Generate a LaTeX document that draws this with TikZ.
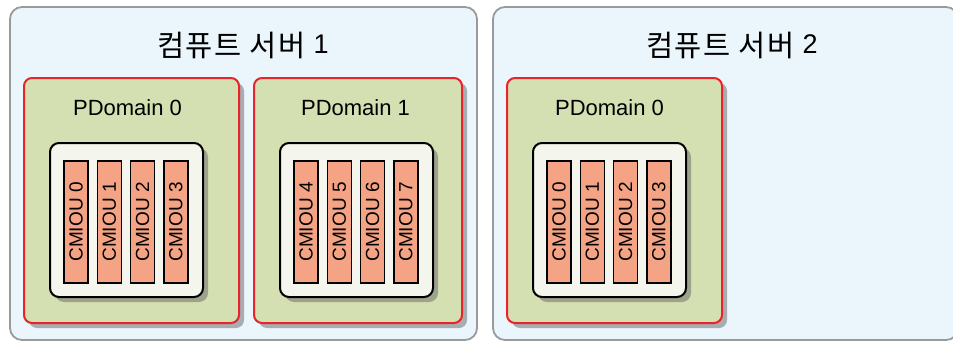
\documentclass[tikz,border=0pt]{standalone}
\usepackage{fontspec}
\setmainfont{Liberation Sans}
\newfontfamily\krfont[LetterSpace=5]{Noto Sans CJK KR}
\usetikzlibrary{shadows}
\definecolor{serverfill}{HTML}{EAF5FC}
\definecolor{serverline}{HTML}{9A9A9A}
\definecolor{pdfill}{HTML}{D5E0B2}
\definecolor{pdline}{HTML}{E8232B}
\definecolor{boardfill}{HTML}{F4F6ED}
\definecolor{cmioufill}{HTML}{F4A385}
\newcommand{\servernum}[1]{\raisebox{2.5pt}{\rmfamily\fontsize{27}{30}\selectfont #1}}
\begin{document}
\begin{tikzpicture}
        [
            x=1pt, y=-1pt,
            server/.style={draw=serverline, fill=serverfill, line width=1.8pt, rounded corners=12pt,
                minimum width=467pt, minimum height=333pt},
            pdomain/.style={draw=pdline, fill=pdfill, line width=2pt, rounded corners=8pt,
                minimum height=245pt, drop shadow={shadow xshift=5pt, shadow yshift=-5pt, fill=black!60}},
            board/.style={draw=black, fill=boardfill, line width=2pt, rounded corners=9pt,
                minimum width=153pt, minimum height=154pt, drop shadow={shadow xshift=5pt, shadow yshift=-5pt, fill=black!60}},
            cmiou/.style={draw=black, fill=cmioufill, line width=1.5pt, rotate=90, inner sep=0pt,
                minimum width=122pt, minimum height=24pt, font=\fontsize{19}{20}\selectfont},
            title/.style={font=\krfont\fontsize{29.5}{32}\selectfont},
            pdlabel/.style={font=\fontsize{22}{24}\selectfont},
        ]
        \useasboundingbox (0,0) rectangle (953,340);
        \node[server] (server1) at (243.5,173.5) {};
        \node[server, minimum width=465pt] (server2) at (725.5,173.5) {};
        \node[title] (title1) at (243,45) {컴퓨트 서버 \servernum{1}};
        \node[title] (title2) at (732,45) {컴퓨트 서버 \servernum{2}};

        \node[pdomain, minimum width=215pt] (pd1a) at (131.5,200.5) {};
        \node[pdomain, minimum width=208pt] (pd1b) at (358,200.5) {};
        \node[pdomain, minimum width=215pt] (pd2a) at (614.5,200.5) {};
        \node[pdlabel] (pd1a-label) at (127.5,108) {PDomain 0};
        \node[pdlabel] (pd1b-label) at (355.5,108) {PDomain 1};
        \node[pdlabel] (pd2a-label) at (609.5,108) {PDomain 0};

        \foreach \b/\bx/\first in {a/50/0, b/280/4, c/533/0}
        {
            \node[board] (board-\b) at (\bx+76.5,220) {};
            \foreach \i in {0,...,3}
            {
                \pgfmathtruncatemacro{\n}{\first+\i}
                \node[cmiou] (cmiou-\b\i) at (\bx+26+33.3*\i,222) {CMIOU \n};
            }
        }
    \end{tikzpicture}
\end{document}
